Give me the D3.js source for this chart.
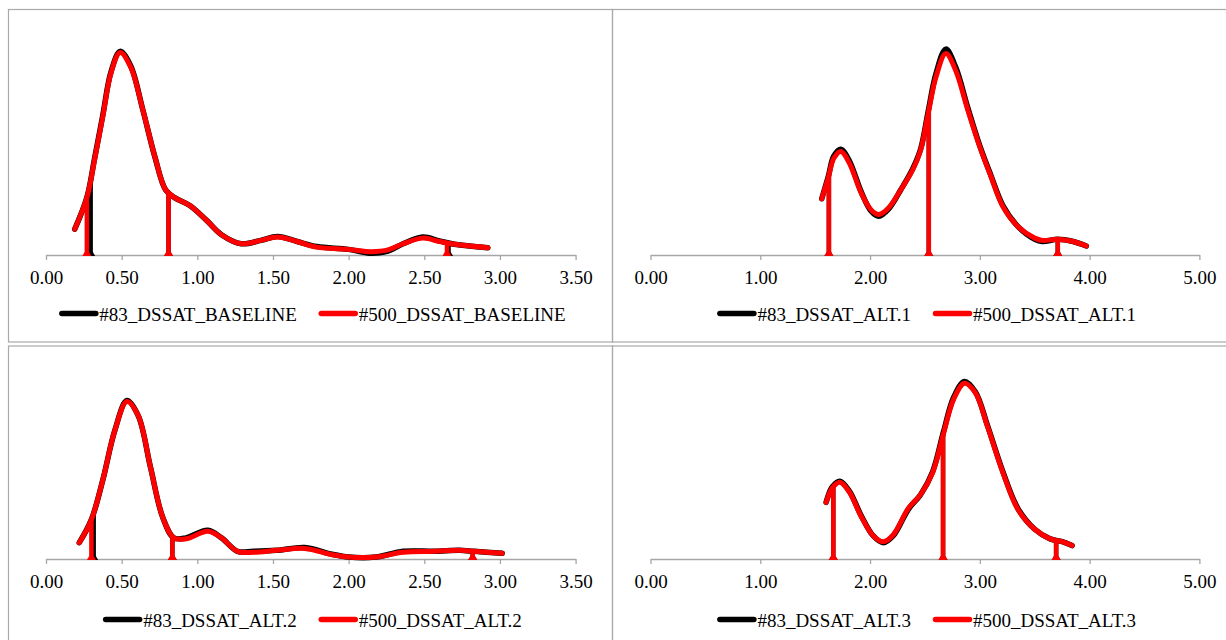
<!DOCTYPE html>
<html>
<head>
<meta charset="utf-8">
<script src="https://cdn.jsdelivr.net/npm/d3@7"></script>
<style>
  html, body { margin: 0; padding: 0; background: #ffffff; }
  svg { display: block; }
</style>
</head>
<body>
<svg id="chart" width="1226" height="640"></svg>
<script>
// ---- Data: kernel density curves of four DSSAT runs (#83 vs #500) ----
const panelNames = ["BASELINE", "ALT.1", "ALT.2", "ALT.3"];
const seriesPrefixes = ["#83_DSSAT_", "#500_DSSAT_"];
const seriesColors = ["#000000", "#ff0000"];

// x tick labels for the two axis layouts
const ticksShort = [0, 0.5, 1, 1.5, 2, 2.5, 3, 3.5];
const ticksLong = [0, 1, 2, 3, 4, 5];

// BASELINE
const baselineX = [0.19, 0.27, 0.32, 0.375, 0.43, 0.49, 0.56, 0.64, 0.72, 0.79, 0.85, 0.95, 1.06, 1.16, 1.29, 1.42, 1.53, 1.66, 1.79, 2.00, 2.15, 2.26, 2.36, 2.49, 2.60, 2.70, 2.92];
const baseline83 = [0.23, 0.51, 0.85, 1.24, 1.63, 1.81, 1.68, 1.29, 0.87, 0.58, 0.51, 0.44, 0.31, 0.18, 0.10, 0.13, 0.165, 0.12, 0.075, 0.05, 0.015, 0.035, 0.10, 0.16, 0.125, 0.095, 0.065];
const baseline500 = [0.23, 0.51, 0.84, 1.23, 1.62, 1.80, 1.67, 1.29, 0.87, 0.58, 0.51, 0.44, 0.31, 0.18, 0.10, 0.13, 0.16, 0.12, 0.07, 0.05, 0.03, 0.045, 0.10, 0.15, 0.12, 0.095, 0.065];
const baselineMarks83 = [0.295, 0.81, 2.66];
const baselineMarks500 = [0.27, 0.81, 2.65];

// ALT.1
const alt1X = [1.56, 1.62, 1.67, 1.735, 1.81, 1.92, 2.01, 2.08, 2.17, 2.28, 2.39, 2.46, 2.53, 2.60, 2.69, 2.78, 2.89, 3.00, 3.10, 3.21, 3.35, 3.50, 3.57, 3.71, 3.85, 3.97];
const alt1_83 = [0.50, 0.70, 0.88, 0.94, 0.84, 0.56, 0.39, 0.345, 0.41, 0.58, 0.77, 0.94, 1.28, 1.61, 1.83, 1.67, 1.31, 0.97, 0.71, 0.44, 0.25, 0.14, 0.12, 0.14, 0.12, 0.08];
const alt1_500 = [0.50, 0.69, 0.86, 0.92, 0.82, 0.55, 0.40, 0.36, 0.42, 0.58, 0.76, 0.93, 1.26, 1.58, 1.79, 1.64, 1.29, 0.96, 0.70, 0.43, 0.25, 0.15, 0.13, 0.14, 0.12, 0.08];
const alt1Marks83 = [1.625, 2.535, 3.71];
const alt1Marks500 = [1.625, 2.535, 3.71];

// ALT.2
const alt2X = [0.22, 0.30, 0.375, 0.455, 0.535, 0.61, 0.69, 0.77, 0.845, 0.925, 1.07, 1.16, 1.265, 1.37, 1.525, 1.71, 1.89, 2.00, 2.18, 2.36, 2.57, 2.73, 2.83, 3.015];
const alt2_83 = [0.17, 0.41, 0.82, 1.34, 1.65, 1.49, 0.96, 0.44, 0.22, 0.22, 0.30, 0.22, 0.08, 0.08, 0.09, 0.12, 0.05, 0.02, 0.02, 0.08, 0.08, 0.09, 0.08, 0.06];
const alt2_500 = [0.17, 0.41, 0.82, 1.34, 1.64, 1.49, 0.96, 0.44, 0.22, 0.21, 0.29, 0.22, 0.08, 0.07, 0.09, 0.11, 0.045, 0.02, 0.02, 0.07, 0.08, 0.09, 0.08, 0.06];
const alt2Marks83 = [0.315, 0.835, 2.82];
const alt2Marks500 = [0.30, 0.835, 2.82];

// ALT.3
const alt3X = [1.60, 1.655, 1.725, 1.81, 1.92, 2.03, 2.12, 2.21, 2.35, 2.46, 2.57, 2.67, 2.76, 2.86, 2.96, 3.07, 3.21, 3.35, 3.50, 3.64, 3.75, 3.84];
const alt3_83 = [0.59, 0.75, 0.81, 0.71, 0.45, 0.24, 0.17, 0.24, 0.52, 0.67, 0.91, 1.33, 1.68, 1.85, 1.74, 1.39, 0.91, 0.52, 0.31, 0.21, 0.18, 0.14];
const alt3_500 = [0.59, 0.74, 0.80, 0.70, 0.44, 0.24, 0.18, 0.25, 0.53, 0.67, 0.90, 1.31, 1.66, 1.83, 1.73, 1.38, 0.90, 0.51, 0.31, 0.21, 0.18, 0.14];
const alt3Marks83 = [1.665, 2.665, 3.695];
const alt3Marks500 = [1.665, 2.665, 3.695];

// ---- Layout ----
const rows = [
  { top: 9.5, bottom: 342, axisY: 255, plotTop: 30, legendY: 313.5 },
  { top: 346, bottom: 700, axisY: 559, plotTop: 367, legendY: 619.5 }
];
const cols = [
  { left: 8.5, right: 612.5, x0: 46, x1: 575.6, ticks: ticksShort },
  { left: 612.5, right: 1237, x0: 650.5, x1: 1199.4, ticks: ticksLong }
];

const panels = [
  { name: panelNames[0], row: 0, col: 0, xs: baselineX, ys: [baseline83, baseline500], marks: [baselineMarks83, baselineMarks500] },
  { name: panelNames[1], row: 0, col: 1, xs: alt1X, ys: [alt1_83, alt1_500], marks: [alt1Marks83, alt1Marks500] },
  { name: panelNames[2], row: 1, col: 0, xs: alt2X, ys: [alt2_83, alt2_500], marks: [alt2Marks83, alt2Marks500] },
  { name: panelNames[3], row: 1, col: 1, xs: alt3X, ys: [alt3_83, alt3_500], marks: [alt3Marks83, alt3Marks500] }
];

const FONT = "'Liberation Serif', 'Times New Roman', serif";
const FONT_SIZE = 19;
const AXIS_COLOR = "#a6a6a6";
const BORDER_COLOR = "#a9a9a9";

const svg = d3.select("#chart");
svg.append("rect").attr("width", 1226).attr("height", 640).attr("fill", "#fff");

// linear interpolation of a density curve at x
function densityAt(xs, ys, x) {
  const i = d3.bisectRight(xs, x);
  if (i <= 0) return ys[0];
  if (i >= xs.length) return ys[ys.length - 1];
  const t = (x - xs[i - 1]) / (xs[i] - xs[i - 1]);
  return ys[i - 1] + t * (ys[i] - ys[i - 1]);
}

panels.forEach(p => {
  const r = rows[p.row], c = cols[p.col];
  const g = svg.append("g");

  // chart border
  g.append("rect")
    .attr("x", c.left).attr("y", r.top)
    .attr("width", c.right - c.left).attr("height", r.bottom - r.top)
    .attr("fill", "none").attr("stroke", BORDER_COLOR).attr("stroke-width", 1.2);

  const tMax = c.ticks[c.ticks.length - 1];
  const x = d3.scaleLinear().domain([0, tMax]).range([c.x0, c.x1]);
  const y = d3.scaleLinear().domain([0, 2]).range([r.axisY, r.plotTop]);

  // x axis
  const axis = d3.axisBottom(x)
    .tickValues(c.ticks)
    .tickFormat(d3.format(".2f"))
    .tickSize(5)
    .tickSizeOuter(0)
    .tickPadding(11);
  const ag = g.append("g").attr("transform", `translate(0,${r.axisY})`).call(axis);
  ag.select(".domain").attr("stroke", AXIS_COLOR).attr("stroke-width", 1.3);
  ag.selectAll(".tick line").attr("stroke", AXIS_COLOR).attr("stroke-width", 1.3);
  ag.selectAll(".tick text")
    .attr("fill", "#000")
    .style("font-family", FONT)
    .style("font-size", FONT_SIZE + "px");

  const line = d3.line()
    .x((d, i) => x(p.xs[i]))
    .y(d => y(d))
    .curve(d3.curveCatmullRom.alpha(0.5));

  // quantile markers: vertical bars from the axis up to the curve
  function drawMarks(k) {
    p.marks[k].forEach(m => {
      const px = x(m);
      const top = y(densityAt(p.xs, p.ys[k], m));
      g.append("line")
        .attr("x1", px).attr("x2", px)
        .attr("y1", r.axisY).attr("y2", top)
        .attr("stroke", seriesColors[k]).attr("stroke-width", 4.5);
      g.append("path")
        .attr("d", `M${px - 4.5},${r.axisY + 1}L${px + 4.5},${r.axisY + 1}L${px + 2.2},${r.axisY - 3}L${px - 2.2},${r.axisY - 3}Z`)
        .attr("fill", seriesColors[k]);
    });
  }

  // #83 series first, #500 on top
  g.append("path").datum(p.ys[0]).attr("d", line)
    .attr("fill", "none").attr("stroke", seriesColors[0]).attr("stroke-width", 5.5)
    .attr("stroke-linecap", "round").attr("stroke-linejoin", "round");
  drawMarks(0);
  g.append("path").datum(p.ys[1]).attr("d", line)
    .attr("fill", "none").attr("stroke", seriesColors[1]).attr("stroke-width", 5)
    .attr("stroke-linecap", "round").attr("stroke-linejoin", "round");
  drawMarks(1);

  // legend
  const lg = g.append("g");
  let cursor = 0;
  seriesPrefixes.forEach((pre, k) => {
    if (k > 0) cursor += 22;
    lg.append("line")
      .attr("x1", cursor + 2.5).attr("x2", cursor + 36.5)
      .attr("y1", 0).attr("y2", 0)
      .attr("stroke", seriesColors[k]).attr("stroke-width", 5.5)
      .attr("stroke-linecap", "round");
    const t = lg.append("text")
      .attr("x", cursor + 40).attr("y", 7.3)
      .attr("fill", "#000")
      .style("font-family", FONT)
      .style("font-size", FONT_SIZE + "px")
      .text(pre + p.name);
    cursor += 40 + t.node().getComputedTextLength();
  });
  const cx = (c.left + c.right) / 2 + 2;
  lg.attr("transform", `translate(${cx - cursor / 2},${r.legendY})`);
});
</script>
</body>
</html>
